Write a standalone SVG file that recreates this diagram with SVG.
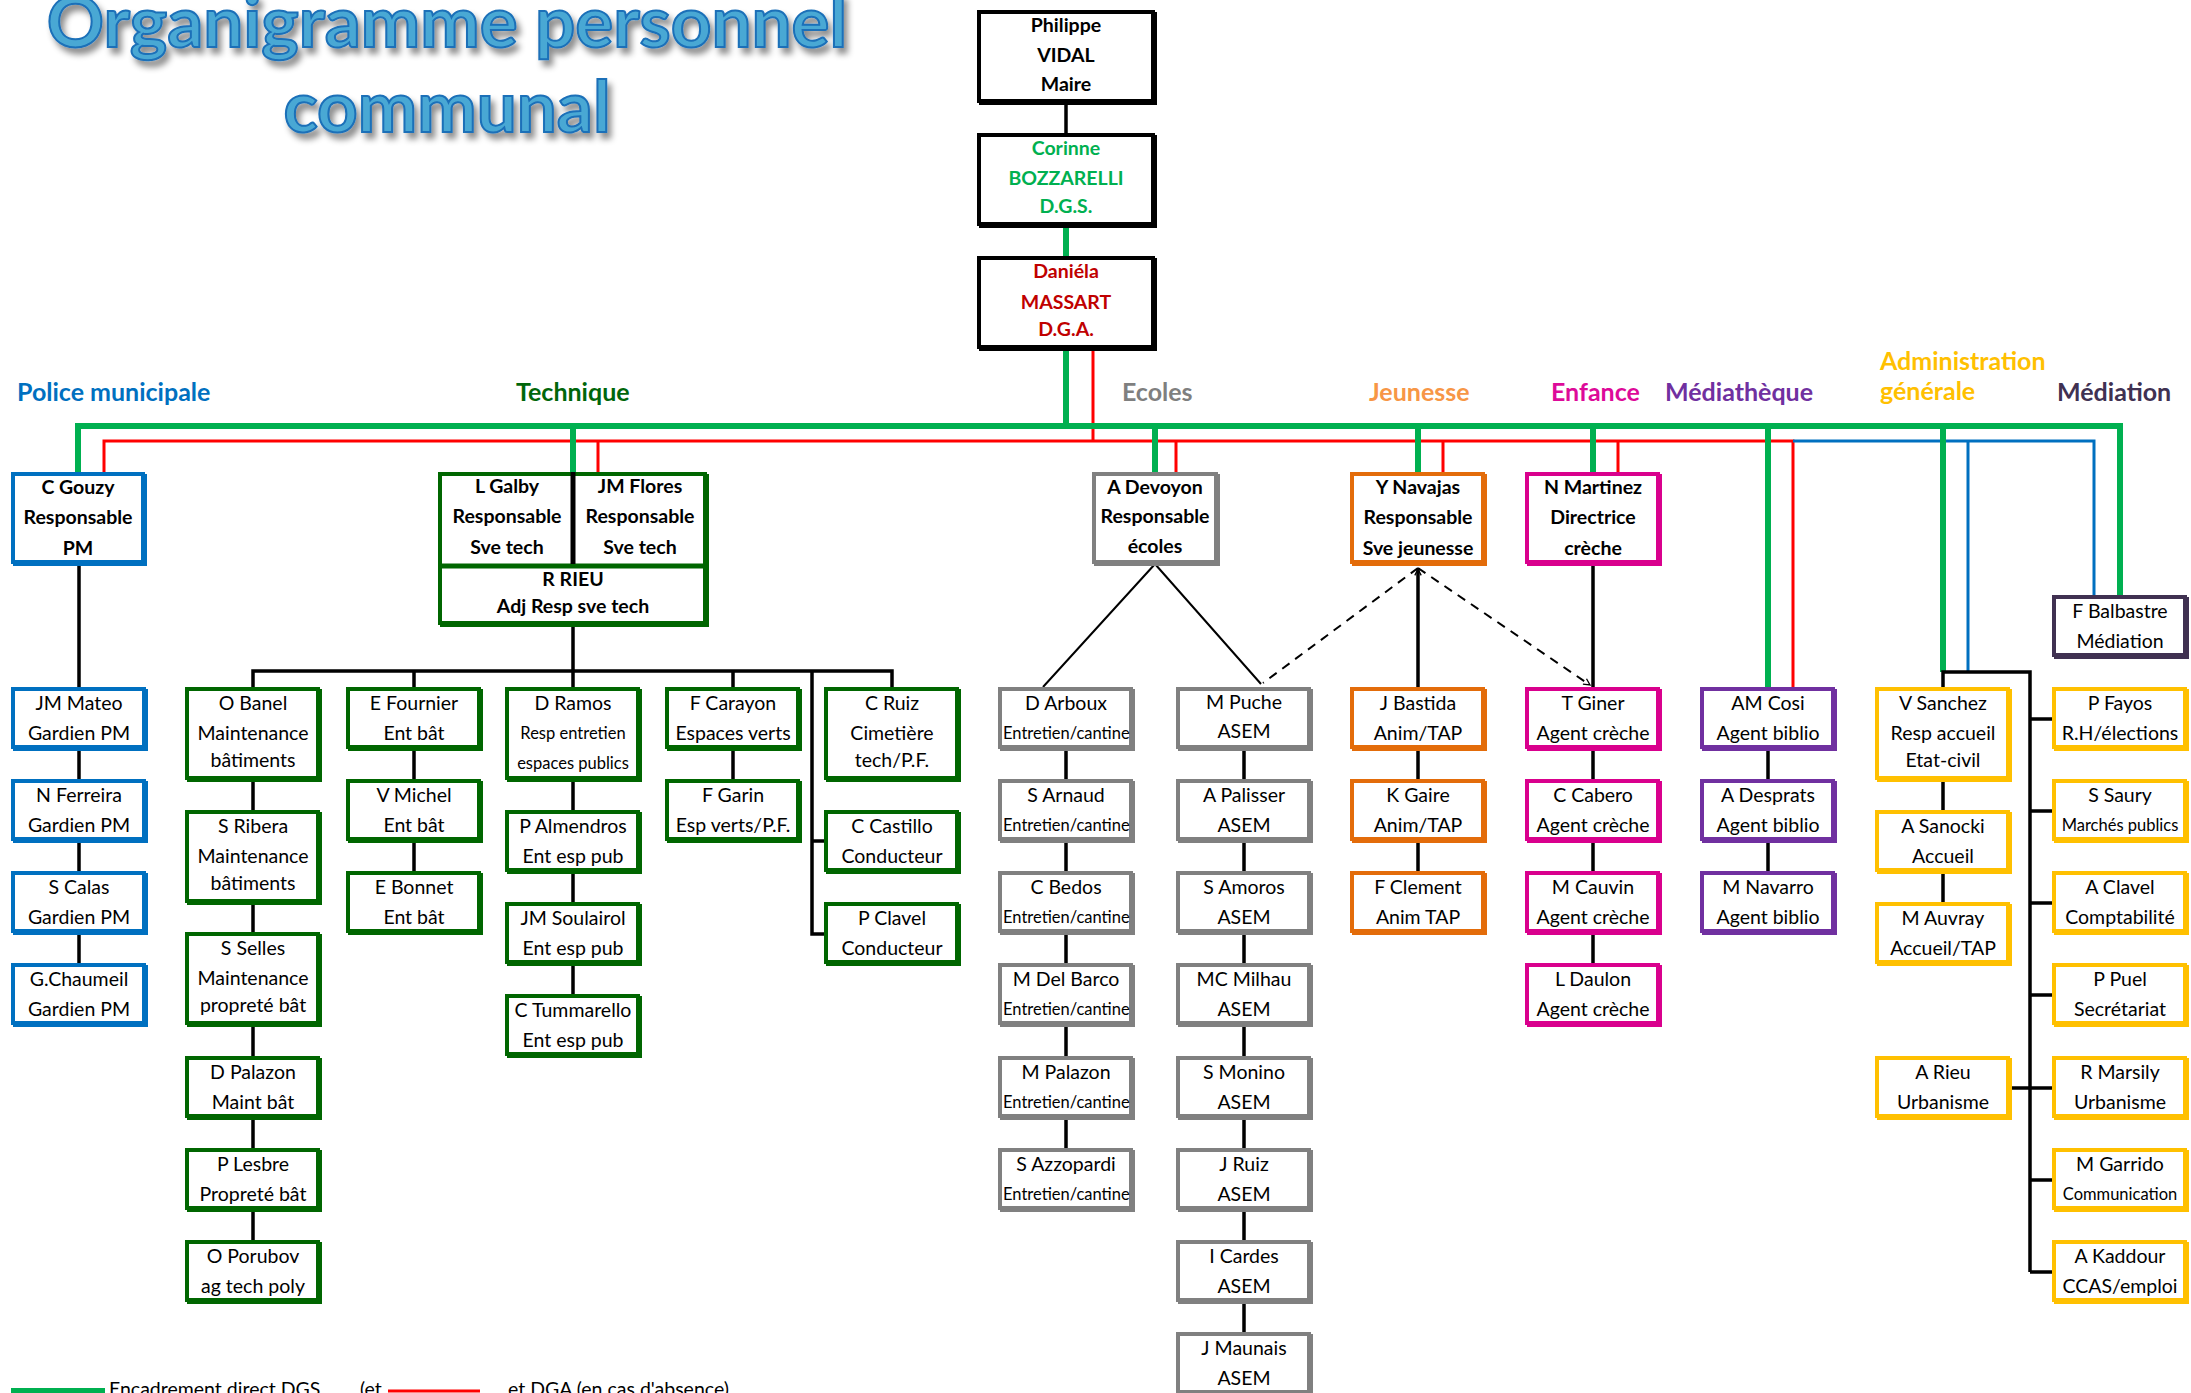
<svg xmlns="http://www.w3.org/2000/svg" width="2191" height="1393" viewBox="0 0 2191 1393">
<defs>
<style>
.t{font-family:Lato,'Liberation Sans',sans-serif;font-size:19.5px;text-anchor:middle;fill:#000}
.b{font-weight:bold}
.sm{font-size:16.5px}
.st{text-anchor:start}
.tg{fill:#00B050}
.tr{fill:#C00000}
.lbl{font-family:Lato,'Liberation Sans',sans-serif;font-size:25px;font-weight:bold}
.title{font-family:Lato,'Liberation Sans',sans-serif;font-size:71px;font-weight:bold;text-anchor:middle;fill:#4AA8D4;stroke:#1A6FB8;stroke-width:2}
.bx{fill:#fff;stroke-width:4}
.sh{stroke:none}
.black .sh{fill:#000}.black .bx{stroke:#000}
.blue .sh{fill:#0070C0}.blue .bx{stroke:#0070C0}
.dg .sh{fill:#006600}.dg .bx{stroke:#006600}
.gray .sh{fill:#808080}.gray .bx{stroke:#808080}
.org .sh{fill:#E36C0A}.org .bx{stroke:#E36C0A}
.mag .sh{fill:#D9008D}.mag .bx{stroke:#D9008D}
.pur .sh{fill:#7030A0}.pur .bx{stroke:#7030A0}
.gold .sh{fill:#FFC000}.gold .bx{stroke:#FFC000}
.dk .sh{fill:#403151}.dk .bx{stroke:#403151}
.cg{fill:none;stroke:#00B050;stroke-width:6}
.cr{fill:none;stroke:#FF0000;stroke-width:3}
.cb{fill:none;stroke:#0070C0;stroke-width:3}
.ck{fill:none;stroke:#000;stroke-width:3.5}
.cd{fill:none;stroke:#000;stroke-width:2}
.dash{stroke-dasharray:9 7}
</style>
<filter id="ds" x="-10%" y="-40%" width="120%" height="190%"><feDropShadow dx="4" dy="6" stdDeviation="3" flood-color="#000" flood-opacity="0.45"/></filter>
<marker id="ar" viewBox="0 0 10 10" refX="9" refY="5" markerWidth="8" markerHeight="8" markerUnits="userSpaceOnUse" orient="auto"><path d="M1,1 L9,5 L1,9" fill="none" stroke="#000" stroke-width="1.6"/></marker>
<clipPath id="clipE"><rect x="1000" y="680" width="131" height="540"/></clipPath>
</defs>
<rect width="2191" height="1393" fill="#fff"/>

<g id="title" filter="url(#ds)">
<text class="title" x="447" y="47">Organigramme personnel</text>
<text class="title" x="447" y="132">communal</text>
</g>

<g id="labels">
<text class="lbl" x="17" y="401" fill="#0070C0">Police municipale</text>
<text class="lbl" x="516" y="401" fill="#00660A">Technique</text>
<text class="lbl" x="1122" y="401" fill="#7F7F7F">Ecoles</text>
<text class="lbl" x="1369" y="401" fill="#F79646">Jeunesse</text>
<text class="lbl" x="1551" y="401" fill="#DD0A99">Enfance</text>
<text class="lbl" x="1665" y="401" fill="#7030A0">Médiathèque</text>
<text class="lbl" x="1880" y="370" fill="#FFC000">Administration</text>
<text class="lbl" x="1880" y="400" fill="#FFC000">générale</text>
<text class="lbl" x="2057" y="401" fill="#403152">Médiation</text>
</g>

<g id="connectors">
<path class="ck" d="M1066 105V133"/>
<path class="cr" d="M1093 351V441"/>
<path class="cr" d="M104 472V441H1793V687"/>
<path class="cr" d="M598 441V472M1176 441V472M1443 441V472M1618 441V472"/>
<path class="cb" d="M1793 441H2094V595M1968 441V672"/>
<path class="cg" d="M1066 228V257M1066 351V426"/>
<path class="cg" d="M78 472V426H2120V595"/>
<path class="cg" d="M573 426V472M1155 426V472M1418 426V472M1593 426V472M1768 426V687M1943 426V672"/>
<path class="ck" d="M79 566V687M79 751V779M79 843V871M79 935V963"/>
<path class="ck" d="M573 625V671M253 687V671H892V687M414 671V687M573 671V687M733 671V687M812 671V934H824M812 841H824"/>
<path class="ck" d="M253 782V810M253 905V932M253 1027V1056M253 1120V1148M253 1212V1240"/>
<path class="ck" d="M414 751V779M414 843V871"/>
<path class="ck" d="M573 782V810M573 874V902M573 966V994"/>
<path class="ck" d="M733 751V779"/>
<path class="ck" d="M1066 751V779M1066 843V871M1066 935V963M1066 1027V1056M1066 1120V1148"/>
<path class="ck" d="M1244 751V779M1244 843V871M1244 935V963M1244 1027V1056M1244 1120V1148M1244 1212V1240M1244 1304V1332"/>
<path class="cd" d="M1155 564L1043 687M1155 564L1261 684"/>
<path class="cd dash" d="M1418 568L1263 683"/>
<path class="cd dash" d="M1418 568L1590 685" marker-end="url(#ar)"/>
<path class="ck" d="M1418 687V569" marker-end="url(#ar)"/>
<path class="ck" d="M1418 751V779M1418 843V871"/>
<path class="ck" d="M1593 566V687M1593 751V779M1593 843V871M1593 935V963"/>
<path class="ck" d="M1768 751V779M1768 843V871"/>
<path class="ck" d="M1943 687V672H2030V1272M1943 782V810M1943 874V902"/>
<path class="ck" d="M2030 719H2052M2030 811H2052M2030 903H2052M2030 995H2052M2011 1088H2052M2030 1180H2052M2030 1272H2052"/>
</g>

<g id="n-maire" class="black"><rect class="sh" x="979" y="12" width="178" height="93"/><rect class="bx" x="979" y="12" width="174" height="89"/>
<text class="t b" x="1066" y="32">Philippe</text><text class="t b" x="1066" y="62">VIDAL</text><text class="t b" x="1066" y="91">Maire</text></g>
<g id="n-dgs" class="black"><rect class="sh" x="979" y="135" width="178" height="93"/><rect class="bx" x="979" y="135" width="174" height="89"/>
<text class="t b tg" x="1066" y="155">Corinne</text><text class="t b tg" x="1066" y="185">BOZZARELLI</text><text class="t b tg" x="1066" y="213">D.G.S.</text></g>
<g id="n-dga" class="black"><rect class="sh" x="979" y="258" width="178" height="93"/><rect class="bx" x="979" y="258" width="174" height="89"/>
<text class="t b tr" x="1066" y="278">Daniéla</text><text class="t b tr" x="1066" y="309">MASSART</text><text class="t b tr" x="1066" y="336">D.G.A.</text></g>

<g id="n-gouzy" class="blue"><rect class="sh" x="13" y="474" width="134" height="92"/><rect class="bx" x="13" y="474" width="130" height="88"/>
<text class="t b" x="78" y="494">C Gouzy</text><text class="t b" x="78" y="524">Responsable</text><text class="t b" x="78" y="555">PM</text></g>

<g id="n-technique" class="dg"><rect class="sh" x="440" y="474" width="269" height="153"/><rect class="bx" x="440" y="474" width="265" height="149"/>
<line x1="438" y1="566" x2="707" y2="566" stroke="#006600" stroke-width="5"/>
<line x1="573" y1="472" x2="573" y2="564" stroke="#000" stroke-width="5"/>
<text class="t b" x="507" y="493">L Galby</text><text class="t b" x="507" y="523">Responsable</text><text class="t b" x="507" y="554">Sve tech</text>
<text class="t b" x="640" y="493">JM Flores</text><text class="t b" x="640" y="523">Responsable</text><text class="t b" x="640" y="554">Sve tech</text>
<text class="t b" x="573" y="586">R RIEU</text><text class="t b" x="573" y="613">Adj Resp sve tech</text></g>

<g id="n-devoyon" class="gray"><rect class="sh" x="1094" y="474" width="126" height="92"/><rect class="bx" x="1094" y="474" width="122" height="88"/>
<text class="t b" x="1155" y="494">A Devoyon</text><text class="t b" x="1155" y="523">Responsable</text><text class="t b" x="1155" y="553">écoles</text></g>
<g id="n-navajas" class="org"><rect class="sh" x="1352" y="474" width="135" height="92"/><rect class="bx" x="1352" y="474" width="131" height="88"/>
<text class="t b" x="1418" y="494">Y Navajas</text><text class="t b" x="1418" y="524">Responsable</text><text class="t b" x="1418" y="555">Sve jeunesse</text></g>
<g id="n-martinez" class="mag"><rect class="sh" x="1527" y="474" width="135" height="92"/><rect class="bx" x="1527" y="474" width="131" height="88"/>
<text class="t b" x="1593" y="494">N Martinez</text><text class="t b" x="1593" y="524">Directrice</text><text class="t b" x="1593" y="555">crèche</text></g>
<g id="n-balbastre" class="dk"><rect class="sh" x="2054" y="597" width="135" height="62"/><rect class="bx" x="2054" y="597" width="131" height="58"/>
<text class="t" x="2120" y="618">F Balbastre</text><text class="t" x="2120" y="648">Médiation</text></g>

<g id="n-mateo" class="blue"><rect class="sh" x="13" y="689" width="135" height="62"/><rect class="bx" x="13" y="689" width="131" height="58"/><text class="t" x="79" y="710">JM Mateo</text><text class="t" x="79" y="740">Gardien PM</text></g>
<g id="n-ferreira" class="blue"><rect class="sh" x="13" y="781" width="135" height="62"/><rect class="bx" x="13" y="781" width="131" height="58"/><text class="t" x="79" y="802">N Ferreira</text><text class="t" x="79" y="832">Gardien PM</text></g>
<g id="n-calas" class="blue"><rect class="sh" x="13" y="873" width="135" height="62"/><rect class="bx" x="13" y="873" width="131" height="58"/><text class="t" x="79" y="894">S Calas</text><text class="t" x="79" y="924">Gardien PM</text></g>
<g id="n-chaumeil" class="blue"><rect class="sh" x="13" y="965" width="135" height="62"/><rect class="bx" x="13" y="965" width="131" height="58"/><text class="t" x="79" y="986">G.Chaumeil</text><text class="t" x="79" y="1016">Gardien PM</text></g>

<g id="n-banel" class="dg"><rect class="sh" x="187" y="689" width="135" height="93"/><rect class="bx" x="187" y="689" width="131" height="89"/><text class="t" x="253" y="710">O Banel</text><text class="t" x="253" y="740">Maintenance</text><text class="t" x="253" y="767">bâtiments</text></g>
<g id="n-ribera" class="dg"><rect class="sh" x="187" y="812" width="135" height="93"/><rect class="bx" x="187" y="812" width="131" height="89"/><text class="t" x="253" y="833">S Ribera</text><text class="t" x="253" y="863">Maintenance</text><text class="t" x="253" y="890">bâtiments</text></g>
<g id="n-selles" class="dg"><rect class="sh" x="187" y="934" width="135" height="93"/><rect class="bx" x="187" y="934" width="131" height="89"/><text class="t" x="253" y="955">S Selles</text><text class="t" x="253" y="985">Maintenance</text><text class="t" x="253" y="1012">propreté bât</text></g>
<g id="n-dpalazon" class="dg"><rect class="sh" x="187" y="1058" width="135" height="62"/><rect class="bx" x="187" y="1058" width="131" height="58"/><text class="t" x="253" y="1079">D Palazon</text><text class="t" x="253" y="1109">Maint bât</text></g>
<g id="n-lesbre" class="dg"><rect class="sh" x="187" y="1150" width="135" height="62"/><rect class="bx" x="187" y="1150" width="131" height="58"/><text class="t" x="253" y="1171">P Lesbre</text><text class="t" x="253" y="1201">Propreté bât</text></g>
<g id="n-porubov" class="dg"><rect class="sh" x="187" y="1242" width="135" height="62"/><rect class="bx" x="187" y="1242" width="131" height="58"/><text class="t" x="253" y="1263">O Porubov</text><text class="t" x="253" y="1293">ag tech poly</text></g>

<g id="n-fournier" class="dg"><rect class="sh" x="348" y="689" width="135" height="62"/><rect class="bx" x="348" y="689" width="131" height="58"/><text class="t" x="414" y="710">E Fournier</text><text class="t" x="414" y="740">Ent bât</text></g>
<g id="n-michel" class="dg"><rect class="sh" x="348" y="781" width="135" height="62"/><rect class="bx" x="348" y="781" width="131" height="58"/><text class="t" x="414" y="802">V Michel</text><text class="t" x="414" y="832">Ent bât</text></g>
<g id="n-bonnet" class="dg"><rect class="sh" x="348" y="873" width="135" height="62"/><rect class="bx" x="348" y="873" width="131" height="58"/><text class="t" x="414" y="894">E Bonnet</text><text class="t" x="414" y="924">Ent bât</text></g>

<g id="n-ramos" class="dg"><rect class="sh" x="507" y="689" width="135" height="93"/><rect class="bx" x="507" y="689" width="131" height="89"/><text class="t" x="573" y="710">D Ramos</text><text class="t sm" x="573" y="739">Resp entretien</text><text class="t sm" x="573" y="769">espaces publics</text></g>
<g id="n-almendros" class="dg"><rect class="sh" x="507" y="812" width="135" height="62"/><rect class="bx" x="507" y="812" width="131" height="58"/><text class="t" x="573" y="833">P Almendros</text><text class="t" x="573" y="863">Ent esp pub</text></g>
<g id="n-soulairol" class="dg"><rect class="sh" x="507" y="904" width="135" height="62"/><rect class="bx" x="507" y="904" width="131" height="58"/><text class="t" x="573" y="925">JM Soulairol</text><text class="t" x="573" y="955">Ent esp pub</text></g>
<g id="n-tummarello" class="dg"><rect class="sh" x="507" y="996" width="135" height="62"/><rect class="bx" x="507" y="996" width="131" height="58"/><text class="t" x="573" y="1017">C Tummarello</text><text class="t" x="573" y="1047">Ent esp pub</text></g>

<g id="n-carayon" class="dg"><rect class="sh" x="667" y="689" width="135" height="62"/><rect class="bx" x="667" y="689" width="131" height="58"/><text class="t" x="733" y="710">F Carayon</text><text class="t" x="733" y="740">Espaces verts</text></g>
<g id="n-garin" class="dg"><rect class="sh" x="667" y="781" width="135" height="62"/><rect class="bx" x="667" y="781" width="131" height="58"/><text class="t" x="733" y="802">F Garin</text><text class="t" x="733" y="832">Esp verts/P.F.</text></g>

<g id="n-cruiz" class="dg"><rect class="sh" x="826" y="689" width="135" height="93"/><rect class="bx" x="826" y="689" width="131" height="89"/><text class="t" x="892" y="710">C Ruiz</text><text class="t" x="892" y="740">Cimetière</text><text class="t" x="892" y="767">tech/P.F.</text></g>
<g id="n-castillo" class="dg"><rect class="sh" x="826" y="812" width="135" height="62"/><rect class="bx" x="826" y="812" width="131" height="58"/><text class="t" x="892" y="833">C Castillo</text><text class="t" x="892" y="863">Conducteur</text></g>
<g id="n-pclavel" class="dg"><rect class="sh" x="826" y="904" width="135" height="62"/><rect class="bx" x="826" y="904" width="131" height="58"/><text class="t" x="892" y="925">P Clavel</text><text class="t" x="892" y="955">Conducteur</text></g>

<g id="n-arboux" class="gray"><rect class="sh" x="1000" y="689" width="135" height="62"/><rect class="bx" x="1000" y="689" width="131" height="58"/><text class="t" x="1066" y="710">D Arboux</text><text class="t sm st" x="1003" y="739" clip-path="url(#clipE)">Entretien/cantine</text></g>
<g id="n-arnaud" class="gray"><rect class="sh" x="1000" y="781" width="135" height="62"/><rect class="bx" x="1000" y="781" width="131" height="58"/><text class="t" x="1066" y="802">S Arnaud</text><text class="t sm st" x="1003" y="831" clip-path="url(#clipE)">Entretien/cantine</text></g>
<g id="n-bedos" class="gray"><rect class="sh" x="1000" y="873" width="135" height="62"/><rect class="bx" x="1000" y="873" width="131" height="58"/><text class="t" x="1066" y="894">C Bedos</text><text class="t sm st" x="1003" y="923" clip-path="url(#clipE)">Entretien/cantine</text></g>
<g id="n-delbarco" class="gray"><rect class="sh" x="1000" y="965" width="135" height="62"/><rect class="bx" x="1000" y="965" width="131" height="58"/><text class="t" x="1066" y="986">M Del Barco</text><text class="t sm st" x="1003" y="1015" clip-path="url(#clipE)">Entretien/cantine</text></g>
<g id="n-mpalazon" class="gray"><rect class="sh" x="1000" y="1058" width="135" height="62"/><rect class="bx" x="1000" y="1058" width="131" height="58"/><text class="t" x="1066" y="1079">M Palazon</text><text class="t sm st" x="1003" y="1108" clip-path="url(#clipE)">Entretien/cantine</text></g>
<g id="n-azzopardi" class="gray"><rect class="sh" x="1000" y="1150" width="135" height="62"/><rect class="bx" x="1000" y="1150" width="131" height="58"/><text class="t" x="1066" y="1171">S Azzopardi</text><text class="t sm st" x="1003" y="1200" clip-path="url(#clipE)">Entretien/cantine</text></g>

<g id="n-puche" class="gray"><rect class="sh" x="1178" y="689" width="135" height="62"/><rect class="bx" x="1178" y="689" width="131" height="58"/><text class="t" x="1244" y="709">M Puche</text><text class="t" x="1244" y="738">ASEM</text></g>
<g id="n-palisser" class="gray"><rect class="sh" x="1178" y="781" width="135" height="62"/><rect class="bx" x="1178" y="781" width="131" height="58"/><text class="t" x="1244" y="802">A Palisser</text><text class="t" x="1244" y="832">ASEM</text></g>
<g id="n-amoros" class="gray"><rect class="sh" x="1178" y="873" width="135" height="62"/><rect class="bx" x="1178" y="873" width="131" height="58"/><text class="t" x="1244" y="894">S Amoros</text><text class="t" x="1244" y="924">ASEM</text></g>
<g id="n-milhau" class="gray"><rect class="sh" x="1178" y="965" width="135" height="62"/><rect class="bx" x="1178" y="965" width="131" height="58"/><text class="t" x="1244" y="986">MC Milhau</text><text class="t" x="1244" y="1016">ASEM</text></g>
<g id="n-monino" class="gray"><rect class="sh" x="1178" y="1058" width="135" height="62"/><rect class="bx" x="1178" y="1058" width="131" height="58"/><text class="t" x="1244" y="1079">S Monino</text><text class="t" x="1244" y="1109">ASEM</text></g>
<g id="n-jruiz" class="gray"><rect class="sh" x="1178" y="1150" width="135" height="62"/><rect class="bx" x="1178" y="1150" width="131" height="58"/><text class="t" x="1244" y="1171">J Ruiz</text><text class="t" x="1244" y="1201">ASEM</text></g>
<g id="n-cardes" class="gray"><rect class="sh" x="1178" y="1242" width="135" height="62"/><rect class="bx" x="1178" y="1242" width="131" height="58"/><text class="t" x="1244" y="1263">I Cardes</text><text class="t" x="1244" y="1293">ASEM</text></g>
<g id="n-maunais" class="gray"><rect class="sh" x="1178" y="1334" width="135" height="62"/><rect class="bx" x="1178" y="1334" width="131" height="58"/><text class="t" x="1244" y="1355">J Maunais</text><text class="t" x="1244" y="1385">ASEM</text></g>

<g id="n-bastida" class="org"><rect class="sh" x="1352" y="689" width="135" height="62"/><rect class="bx" x="1352" y="689" width="131" height="58"/><text class="t" x="1418" y="710">J Bastida</text><text class="t" x="1418" y="740">Anim/TAP</text></g>
<g id="n-gaire" class="org"><rect class="sh" x="1352" y="781" width="135" height="62"/><rect class="bx" x="1352" y="781" width="131" height="58"/><text class="t" x="1418" y="802">K Gaire</text><text class="t" x="1418" y="832">Anim/TAP</text></g>
<g id="n-clement" class="org"><rect class="sh" x="1352" y="873" width="135" height="62"/><rect class="bx" x="1352" y="873" width="131" height="58"/><text class="t" x="1418" y="894">F Clement</text><text class="t" x="1418" y="924">Anim TAP</text></g>

<g id="n-giner" class="mag"><rect class="sh" x="1527" y="689" width="135" height="62"/><rect class="bx" x="1527" y="689" width="131" height="58"/><text class="t" x="1593" y="710">T Giner</text><text class="t" x="1593" y="740">Agent crèche</text></g>
<g id="n-cabero" class="mag"><rect class="sh" x="1527" y="781" width="135" height="62"/><rect class="bx" x="1527" y="781" width="131" height="58"/><text class="t" x="1593" y="802">C Cabero</text><text class="t" x="1593" y="832">Agent crèche</text></g>
<g id="n-cauvin" class="mag"><rect class="sh" x="1527" y="873" width="135" height="62"/><rect class="bx" x="1527" y="873" width="131" height="58"/><text class="t" x="1593" y="894">M Cauvin</text><text class="t" x="1593" y="924">Agent crèche</text></g>
<g id="n-daulon" class="mag"><rect class="sh" x="1527" y="965" width="135" height="62"/><rect class="bx" x="1527" y="965" width="131" height="58"/><text class="t" x="1593" y="986">L Daulon</text><text class="t" x="1593" y="1016">Agent crèche</text></g>

<g id="n-cosi" class="pur"><rect class="sh" x="1702" y="689" width="135" height="62"/><rect class="bx" x="1702" y="689" width="131" height="58"/><text class="t" x="1768" y="710">AM Cosi</text><text class="t" x="1768" y="740">Agent biblio</text></g>
<g id="n-desprats" class="pur"><rect class="sh" x="1702" y="781" width="135" height="62"/><rect class="bx" x="1702" y="781" width="131" height="58"/><text class="t" x="1768" y="802">A Desprats</text><text class="t" x="1768" y="832">Agent biblio</text></g>
<g id="n-navarro" class="pur"><rect class="sh" x="1702" y="873" width="135" height="62"/><rect class="bx" x="1702" y="873" width="131" height="58"/><text class="t" x="1768" y="894">M Navarro</text><text class="t" x="1768" y="924">Agent biblio</text></g>

<g id="n-sanchez" class="gold"><rect class="sh" x="1877" y="689" width="135" height="93"/><rect class="bx" x="1877" y="689" width="131" height="89"/><text class="t" x="1943" y="710">V Sanchez</text><text class="t" x="1943" y="740">Resp accueil</text><text class="t" x="1943" y="767">Etat-civil</text></g>
<g id="n-sanocki" class="gold"><rect class="sh" x="1877" y="812" width="135" height="62"/><rect class="bx" x="1877" y="812" width="131" height="58"/><text class="t" x="1943" y="833">A Sanocki</text><text class="t" x="1943" y="863">Accueil</text></g>
<g id="n-auvray" class="gold"><rect class="sh" x="1877" y="904" width="135" height="62"/><rect class="bx" x="1877" y="904" width="131" height="58"/><text class="t" x="1943" y="925">M Auvray</text><text class="t" x="1943" y="955">Accueil/TAP</text></g>
<g id="n-arieu" class="gold"><rect class="sh" x="1877" y="1058" width="135" height="62"/><rect class="bx" x="1877" y="1058" width="131" height="58"/><text class="t" x="1943" y="1079">A Rieu</text><text class="t" x="1943" y="1109">Urbanisme</text></g>

<g id="n-fayos" class="gold"><rect class="sh" x="2054" y="689" width="135" height="62"/><rect class="bx" x="2054" y="689" width="131" height="58"/><text class="t" x="2120" y="710">P Fayos</text><text class="t" x="2120" y="740">R.H/élections</text></g>
<g id="n-saury" class="gold"><rect class="sh" x="2054" y="781" width="135" height="62"/><rect class="bx" x="2054" y="781" width="131" height="58"/><text class="t" x="2120" y="802">S Saury</text><text class="t sm" x="2120" y="831">Marchés publics</text></g>
<g id="n-aclavel" class="gold"><rect class="sh" x="2054" y="873" width="135" height="62"/><rect class="bx" x="2054" y="873" width="131" height="58"/><text class="t" x="2120" y="894">A Clavel</text><text class="t" x="2120" y="924">Comptabilité</text></g>
<g id="n-puel" class="gold"><rect class="sh" x="2054" y="965" width="135" height="62"/><rect class="bx" x="2054" y="965" width="131" height="58"/><text class="t" x="2120" y="986">P Puel</text><text class="t" x="2120" y="1016">Secrétariat</text></g>
<g id="n-marsily" class="gold"><rect class="sh" x="2054" y="1058" width="135" height="62"/><rect class="bx" x="2054" y="1058" width="131" height="58"/><text class="t" x="2120" y="1079">R Marsily</text><text class="t" x="2120" y="1109">Urbanisme</text></g>
<g id="n-garrido" class="gold"><rect class="sh" x="2054" y="1150" width="135" height="62"/><rect class="bx" x="2054" y="1150" width="131" height="58"/><text class="t" x="2120" y="1171">M Garrido</text><text class="t sm" x="2120" y="1200">Communication</text></g>
<g id="n-kaddour" class="gold"><rect class="sh" x="2054" y="1242" width="135" height="62"/><rect class="bx" x="2054" y="1242" width="131" height="58"/><text class="t" x="2120" y="1263">A Kaddour</text><text class="t" x="2120" y="1293">CCAS/emploi</text></g>

<g id="legend">
<line x1="11" y1="1391" x2="105" y2="1391" stroke="#00B050" stroke-width="6"/>
<text class="t st" x="109" y="1396">Encadrement direct DGS</text>
<text class="t st" x="360" y="1396">(et</text>
<line x1="388" y1="1391" x2="480" y2="1391" stroke="#FF0000" stroke-width="3"/>
<text class="t st" x="508" y="1396">et DGA (en cas d'absence)</text>
</g>
</svg>
